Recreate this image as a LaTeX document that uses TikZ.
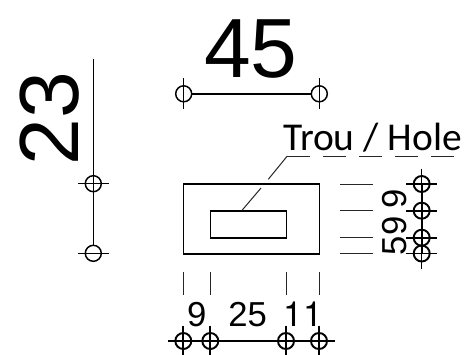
\documentclass[tikz,border=0pt]{standalone}
\usepackage{fontspec}
\setmainfont{Liberation Sans}
\newfontfamily\onefont{TeX Gyre Heros}
\newfontfamily\labelfont{Carlito}
\tikzset{
  thinline/.style={line width=0.75pt,black!85},
  dimline/.style={line width=1.2pt,black},
  heavyline/.style={line width=1.45pt,black},
  tickline/.style={line width=1.1pt,black},
  bigtxt/.style={inner sep=0pt,font=\fontsize{63}{63}\selectfont},
  dimtxt/.style={inner sep=0pt,font=\fontsize{26}{26}\selectfont},
  holetxt/.style={inner sep=0pt,font=\labelfont\fontsize{29.6}{29.6}\selectfont},
  mark circle/.style={line width=1.1pt,black},
}
\newcommand{\hdim}[2][tickline]{% vertical tick: horizontal dimension terminator
  \draw[mark circle,#1] (#2) circle[radius=8];
  \draw[#1] ([yshift=15.5*0.75pt]#2) -- ([yshift=-15.5*0.75pt]#2);}
\newcommand{\vdim}[2][tickline]{% horizontal tick: vertical dimension terminator
  \draw[mark circle,#1] (#2) circle[radius=8];
  \draw[#1] ([xshift=-15.5*0.75pt]#2) -- ([xshift=15.5*0.75pt]#2);}
\begin{document}
\begin{tikzpicture}[x=0.75pt,y=-0.75pt]
\useasboundingbox (0,0) rectangle (467,354);
\fill[white] (0,0) rectangle (467,354);

% top dimension 45
\coordinate (ta) at (183.7,93.8);
\coordinate (tb) at (319.3,93.8);
\draw[dimline] ([xshift=6pt]ta) -- ([xshift=-6pt]tb);
\hdim{ta}\hdim{tb}
\node[bigtxt,anchor=base] (t45) at (251,77) {45};

% left dimension 23
\coordinate (la) at (93.3,183.7);
\coordinate (lb) at (93.3,253.3);
\coordinate (lt) at (93.3,59);
\draw[dimline] (lt) -- ([yshift=6pt]lb);
\vdim{la}\vdim{lb}
\node[bigtxt,anchor=base,rotate=90] (t23) at (78,118.5) {23};

% plate and hole
\draw[dimline] (183.3,183.7) rectangle (319.3,253.7);
\draw[dimline] (210.3,210.7) rectangle (286.3,238);

% leader and label
\coordinate (ha) at (242.3,210);
\coordinate (hb) at (261,188);
\coordinate (hc) at (268.3,179.3);
\coordinate (hd) at (287.3,156);
\coordinate (he) at (454,156);
\draw[thinline] (ha) -- (hb);
\draw[thinline] (hc) -- (hd);
\draw[thinline,dash pattern=on 17.2pt off 9.8pt] (hd) -- (he);
\node[holetxt,anchor=base west] (hole) at (283,150) {Trou / Hole};

% right extension lines
\foreach \yy in {184,210.7,237.7,253.5}
  \draw[thinline] (340,\yy) -- (373.3,\yy);

% right dimensions
\coordinate (ra) at (421.7,184);
\coordinate (rb) at (421.7,210.7);
\coordinate (rc) at (421.7,237.7);
\coordinate (rd) at (421.7,253.5);
\draw[heavyline] (ra) -- (rd);
\vdim[heavyline]{ra}\vdim[heavyline]{rb}\vdim[heavyline]{rc}\vdim[heavyline]{rd}
\draw[tickline] ([yshift=15.5*0.75pt]ra) -- (ra);
\draw[tickline] (rd) -- ([yshift=-15.5*0.75pt]rd);
\node[dimtxt,anchor=base,rotate=90] (r9a) at (406.7,198.5) {9};
\node[dimtxt,anchor=base,rotate=90] (r9b) at (406.7,226) {9};
\node[dimtxt,anchor=base,rotate=90] (r5) at (406.7,245.5) {5};

% bottom extension lines
\foreach \xx in {183.3,210.3,286,319}
  \draw[thinline] (\xx,272) -- (\xx,295);

% bottom dimensions
\coordinate (ba) at (183.3,341);
\coordinate (bb) at (210.3,341);
\coordinate (bc) at (286,341);
\coordinate (bd) at (319,341);
\draw[heavyline] (ba) -- (bd);
\hdim[heavyline]{ba}\hdim[heavyline]{bb}\hdim[heavyline]{bc}\hdim[heavyline]{bd}
\draw[tickline] ([xshift=-15.5*0.75pt]ba) -- (ba);
\draw[tickline] (bd) -- ([xshift=15.5*0.75pt]bd);
\node[dimtxt,anchor=base] (b9) at (196.7,326) {9};
\node[dimtxt,anchor=base] (b25) at (247.7,326) {25};
\node[dimtxt,anchor=base,font=\onefont\fontsize{26}{26}\selectfont] (b11) at (303,326) {11};
\end{tikzpicture}
\end{document}
